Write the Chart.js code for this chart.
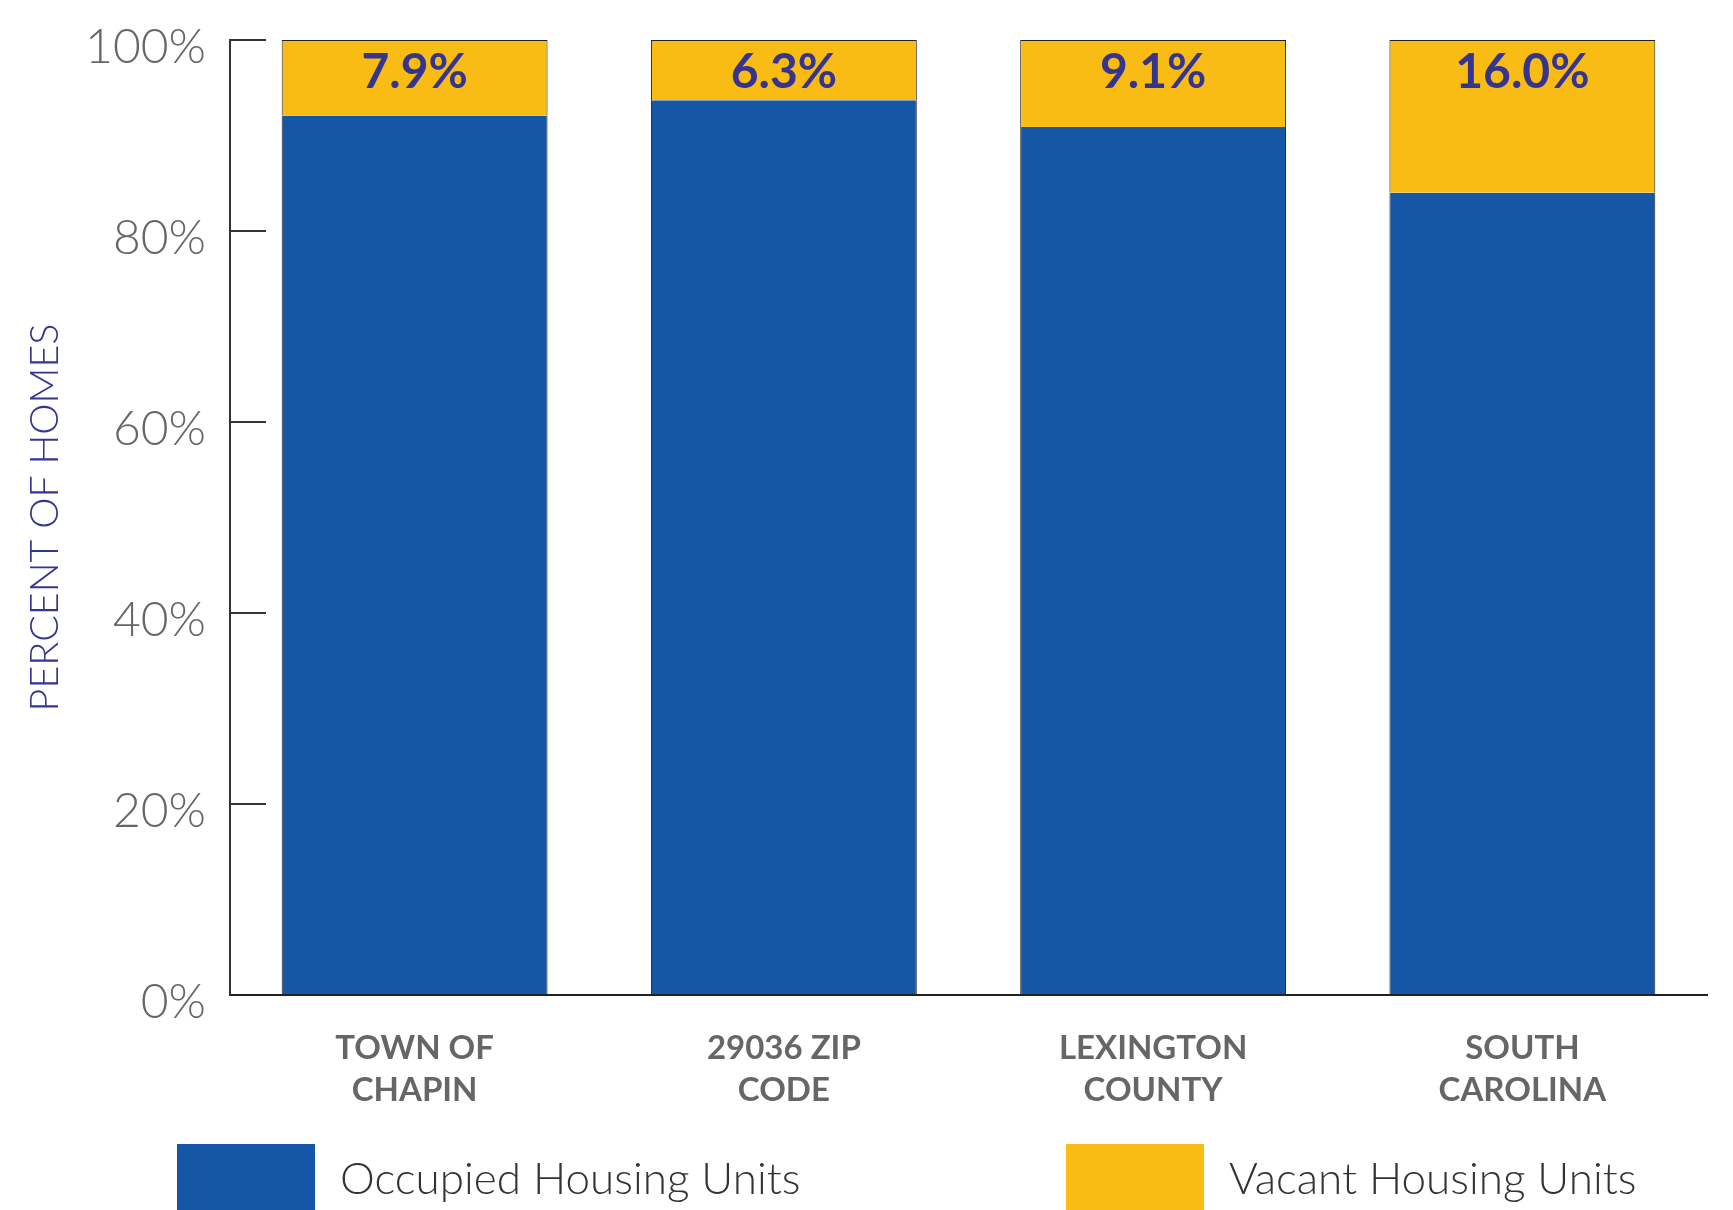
<!DOCTYPE html>
<html>
<head>
<meta charset="utf-8">
<script src="https://cdn.jsdelivr.net/npm/chart.js@4.4.1/dist/chart.umd.min.js"></script>
<style>
  html, body { margin: 0; padding: 0; background: #fff; }
  #wrap { width: 1733px; height: 1210px; }
</style>
</head>
<body>
<div id="wrap"><canvas id="myChart" width="1733" height="1210"></canvas></div>
<script>
const categories = [['TOWN OF', 'CHAPIN'], ['29036 ZIP', 'CODE'], ['LEXINGTON', 'COUNTY'], ['SOUTH', 'CAROLINA']]
const occupied = [92.1, 93.7, 90.9, 84.0]
const vacant = [7.9, 6.3, 9.1, 16.0]
const seriesNames = ['Occupied Housing Units', 'Vacant Housing Units']
const yTicks = [0, 20, 40, 60, 80, 100]

const BLUE = '#1557a6'
const YELLOW = '#f8bc15'
const NAVY = '#35358f'
const FONT = 'Lato, "Open Sans", sans-serif'

// value labels inside the vacant (top) segment
const vacantLabels = {
  id: 'vacantLabels',
  afterDatasetsDraw (chart) {
    const ctx = chart.ctx
    const meta = chart.getDatasetMeta(1)
    ctx.save()
    ctx.font = 'bold 48px ' + FONT
    ctx.fillStyle = NAVY
    ctx.textAlign = 'center'
    ctx.textBaseline = 'middle'
    meta.data.forEach(function (bar, i) {
      ctx.fillText(vacant[i].toFixed(1) + '%', bar.x, bar.y + 33)
    })
    ctx.restore()
  }
}

// legend drawn below the axis labels
const boxLegend = {
  id: 'boxLegend',
  afterDraw (chart) {
    const ctx = chart.ctx
    const starts = [177, 1066]
    ctx.save()
    ctx.font = '300 44px ' + FONT
    ctx.textBaseline = 'middle'
    ctx.textAlign = 'left'
    chart.data.datasets.forEach(function (ds, i) {
      ctx.fillStyle = ds.backgroundColor
      ctx.fillRect(starts[i], 1144, 138, 70)
      ctx.fillStyle = '#333'
      ctx.fillText(ds.label, starts[i] + 163, 1180)
    })
    ctx.restore()
  }
}

const ctx = document.getElementById('myChart').getContext('2d')
// eslint-disable-next-line no-unused-vars
const myChart = new Chart(ctx, {
  type: 'bar',
  data: {
    labels: categories,
    datasets: [{
      label: seriesNames[0],
      data: occupied,
      backgroundColor: BLUE,
      borderColor: '#222',
      borderWidth: { top: 0, left: 1, right: 1, bottom: 0 },
      borderSkipped: false,
      barPercentage: 0.72,
      categoryPercentage: 1
    }, {
      label: seriesNames[1],
      data: vacant,
      backgroundColor: YELLOW,
      borderColor: '#222',
      borderWidth: { top: 1, left: 1, right: 1, bottom: 0 },
      borderSkipped: false,
      barPercentage: 0.72,
      categoryPercentage: 1
    }]
  },
  options: {
    responsive: false,
    animation: false,
    layout: { padding: { top: 40, right: 26, bottom: 0, left: 0 } },
    plugins: {
      legend: { display: false },
      tooltip: { enabled: false }
    },
    scales: {
      x: {
        stacked: true,
        grid: { display: false, drawTicks: false },
        border: { display: true, color: '#222', width: 2 },
        ticks: {
          color: '#666',
          font: { family: FONT, size: 33, weight: 'bold', lineHeight: 1.27 },
          padding: 32,
          maxRotation: 0
        },
        afterFit (scale) { scale.height = 215 }
      },
      y: {
        stacked: true,
        min: 0,
        max: 100,
        afterBuildTicks (scale) {
          scale.ticks = yTicks.map(function (v) { return { value: v } })
        },
        grid: {
          display: true,
          drawOnChartArea: false,
          drawTicks: true,
          tickLength: -36,
          color: '#333',
          lineWidth: 2
        },
        border: { display: true, color: '#333', width: 2 },
        ticks: {
          color: '#666',
          font: { family: FONT, size: 48, weight: '300' },
          padding: 60,
          labelOffset: 8,
          callback: function (value) { return value + '%' }
        },
        title: {
          display: true,
          text: 'PERCENT OF HOMES',
          color: NAVY,
          font: { family: FONT, size: 39.5, weight: '300' },
          padding: { top: 22, bottom: 0 }
        },
        afterFit (scale) {
          scale.width = 230
          scale.paddingTop = 0
          scale.paddingBottom = 0
        }
      }
    }
  },
  plugins: [vacantLabels, boxLegend]
})
</script>
</body>
</html>
